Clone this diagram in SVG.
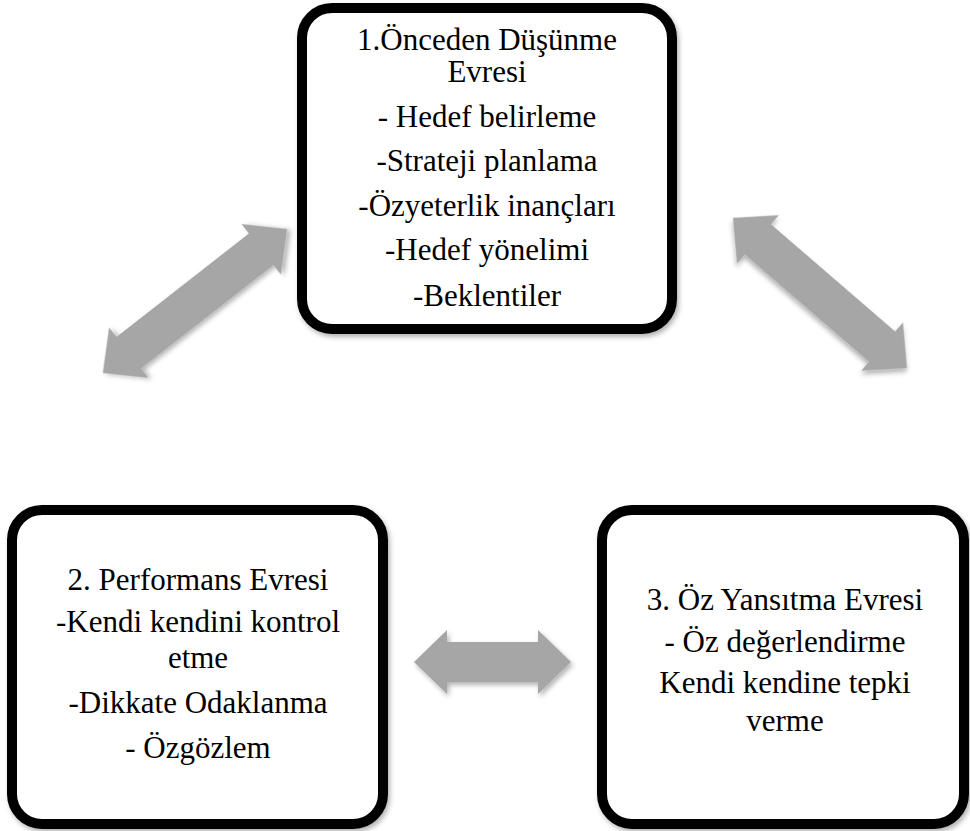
<svg xmlns="http://www.w3.org/2000/svg" width="970" height="831" viewBox="0 0 970 831">
  <defs>
    <filter id="sh" x="-10%" y="-10%" width="130%" height="130%">
      <feDropShadow dx="2" dy="3" stdDeviation="2.5" flood-color="#000" flood-opacity="0.3"/>
    </filter>
    <style>
      .box { fill: #ffffff; stroke: #000000; stroke-width: 10; filter: url(#sh); }
      .arr { fill: #a6a6a6; stroke: none; filter: url(#sh); }
      text { font-family: "Liberation Serif", "Times New Roman", serif; font-size: 31px; fill: #000000; text-anchor: middle; }
    </style>
  </defs>
  <rect width="970" height="831" fill="#ffffff"/>
  <g id="connectors">
    <polygon class="arr" transform="translate(195,301) rotate(-38)" points="-117,0 -84,-32 -84,-20 84,-20 84,-32 117,0 84,32 84,20 -84,20 -84,32"/>
    <polygon class="arr" transform="translate(820,293) rotate(40.8)" points="-115,0 -82,-32 -82,-20 82,-20 82,-32 115,0 82,32 82,20 -82,20 -82,32"/>
    <polygon class="arr" points="414,662 447,630 447,642 538,642 538,630 571,662 538,694 538,682 447,682 447,694"/>
  </g>
  <g id="node-1">
    <rect class="box" x="302" y="8" width="370" height="321" rx="30" ry="30"/>
    <text x="487" y="50">1.Önceden Düşünme</text>
    <text x="487" y="82">Evresi</text>
    <text x="487" y="127">- Hedef belirleme</text>
    <text x="487" y="171">-Strateji planlama</text>
    <text x="487" y="216">-Özyeterlik inançları</text>
    <text x="487" y="260">-Hedef yönelimi</text>
    <text x="487" y="306">-Beklentiler</text>
  </g>
  <g id="node-2">
    <rect class="box" x="12" y="510" width="371" height="314" rx="30" ry="30"/>
    <text x="198" y="590">2. Performans Evresi</text>
    <text x="198" y="632">-Kendi kendini kontrol</text>
    <text x="198" y="668">etme</text>
    <text x="198" y="713">-Dikkate Odaklanma</text>
    <text x="198" y="758">- Özgözlem</text>
  </g>
  <g id="node-3">
    <rect class="box" x="602" y="510" width="362" height="314" rx="30" ry="30"/>
    <text x="785" y="610">3. Öz Yansıtma Evresi</text>
    <text x="785" y="652">- Öz değerlendirme</text>
    <text x="785" y="693">Kendi kendine tepki</text>
    <text x="785" y="731">verme</text>
  </g>
</svg>
